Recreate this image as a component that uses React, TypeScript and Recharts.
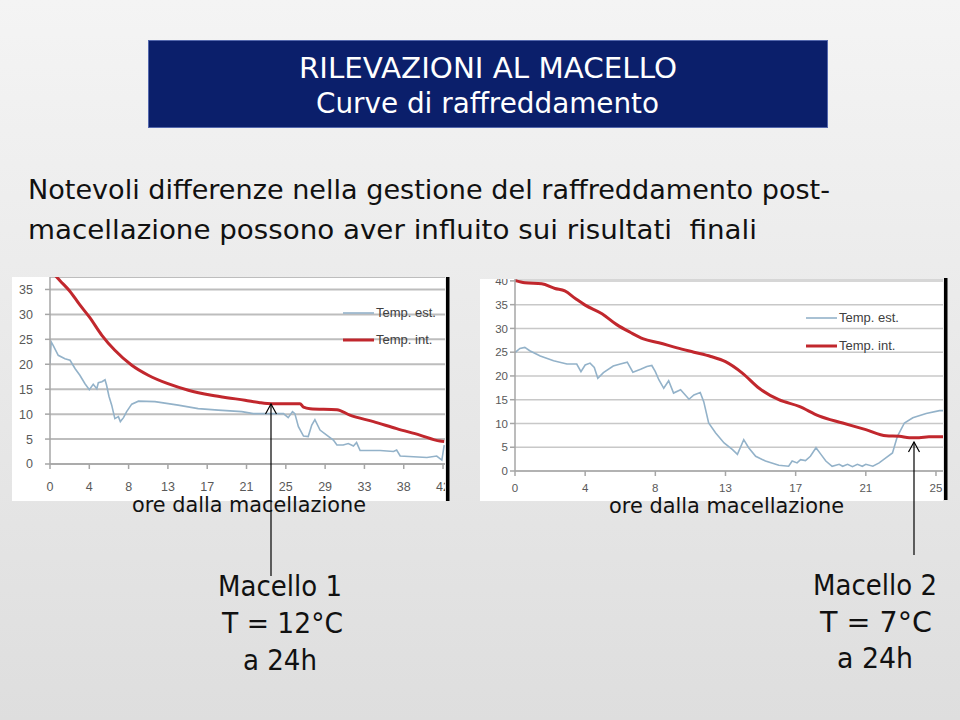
import { CartesianGrid, Line, LineChart, XAxis, YAxis } from "recharts";

// x positions are measured in tick slots of the original Excel axis
// (slot n sits under label n), read off the picture

// Macello 1
const m1Labels = ["0", "4", "8", "13", "17", "21", "25", "29", "33", "38", "42"];
const m1EstPos = [
  0, 0.03, 0.08, 0.21, 0.38, 0.51, 0.64, 0.76, 0.89, 1.0, 1.1, 1.19, 1.23, 1.32, 1.4, 1.44,
  1.5, 1.57, 1.65, 1.74, 1.79, 1.87, 1.95, 2.08, 2.25, 2.67, 3.26, 3.77, 4.28, 4.88, 5.17,
  5.5, 5.94, 6.06, 6.17, 6.23, 6.32, 6.45, 6.57, 6.66, 6.74, 6.87, 7.04, 7.21, 7.3, 7.46,
  7.59, 7.72, 7.8, 7.89, 8.4, 8.74, 8.82, 8.91, 9.59, 9.84, 9.97, 10.03,
];
const m1EstTemp = [
  20.1, 24.5, 23.8, 21.8, 21.1, 20.8, 19.1, 17.8, 16.1, 14.9, 16.0, 15.1, 16.3, 16.5, 16.9,
  15.8, 13.6, 11.8, 9.1, 9.5, 8.5, 9.3, 10.5, 12.0, 12.6, 12.5, 11.8, 11.1, 10.8, 10.5, 10.1,
  10.1, 10.1, 9.3, 10.5, 10.1, 7.5, 5.6, 5.5, 7.8, 8.9, 6.8, 5.8, 4.8, 3.8, 3.8, 4.1, 3.6,
  4.3, 2.7, 2.7, 2.5, 2.8, 1.6, 1.3, 1.6, 0.8, 3.8,
];
const m1IntPos = [
  0, 0.25, 0.5, 0.75, 1.0, 1.32, 1.65, 2.08, 2.5, 3.0, 3.52, 4.11, 4.5, 4.96, 5.34, 5.64,
  6.36, 6.45, 6.62, 7.3, 7.63, 8.23, 8.82, 9.41, 9.92, 10.03,
];
const m1IntTemp = [
  39.0, 36.8, 34.7, 32.0, 29.5, 25.8, 22.8, 19.8, 17.8, 16.1, 14.8, 13.8, 13.3, 12.8, 12.3,
  12.1, 12.1, 11.4, 11.1, 10.9, 9.8, 8.5, 7.1, 5.8, 4.6, 4.5,
];

// Macello 2
const m2Labels = ["0", "4", "8", "13", "17", "21", "25"];
const m2EstPos = [
  0, 0.07, 0.14, 0.21, 0.36, 0.55, 0.74, 0.88, 0.94, 1.0, 1.07, 1.13, 1.18, 1.26, 1.4, 1.5,
  1.6, 1.68, 1.79, 1.88, 1.95, 2.0, 2.05, 2.12, 2.19, 2.26, 2.36, 2.48, 2.55, 2.64, 2.69,
  2.76, 2.86, 2.98, 3.1, 3.17, 3.26, 3.33, 3.43, 3.57, 3.76, 3.9, 3.95, 4.02, 4.07, 4.14,
  4.21, 4.29, 4.36, 4.43, 4.52, 4.62, 4.67, 4.74, 4.81, 4.88, 4.95, 5.0, 5.1, 5.19, 5.29,
  5.38, 5.45, 5.55, 5.67, 5.86, 6.05, 6.1,
];
const m2EstTemp = [
  24.9, 25.8, 26.0, 25.3, 24.2, 23.2, 22.5, 22.5, 20.9, 22.3, 22.7, 21.8, 19.5, 20.7, 22.1,
  22.5, 22.9, 20.8, 21.4, 22.0, 22.2, 20.9, 19.2, 17.4, 19.0, 16.4, 17.1, 15.1, 16.0, 16.5,
  14.6, 10.1, 8.0, 5.9, 4.5, 3.5, 6.6, 4.9, 3.1, 2.1, 1.2, 1.0, 2.1, 1.7, 2.4, 2.2, 3.1, 4.9,
  3.5, 2.1, 1.0, 1.4, 1.0, 1.4, 0.9, 1.4, 1.0, 1.4, 1.0, 1.7, 2.8, 3.8, 7.3, 10.1, 11.2,
  12.1, 12.7, 12.7,
];
const m2IntPos = [
  0, 0.14, 0.38, 0.57, 0.71, 0.86, 1.0, 1.24, 1.45, 1.64, 1.83, 2.05, 2.31, 2.55, 2.79, 3.0,
  3.24, 3.48, 3.76, 4.05, 4.33, 4.67, 5.0, 5.29, 5.48, 5.62, 5.76, 5.9, 6.1,
];
const m2IntTemp = [
  40.1, 39.6, 39.4, 38.4, 37.9, 36.3, 34.9, 33.1, 30.8, 29.2, 27.8, 27.0, 25.9, 25.0, 24.1,
  23.0, 20.6, 17.4, 15.0, 13.6, 11.6, 10.1, 8.7, 7.4, 7.3, 7.0, 7.0, 7.2, 7.2,
];

const m1YTicks = [0, 5, 10, 15, 20, 25, 30, 35];
const m2YTicks = [0, 5, 10, 15, 20, 25, 30, 35, 40];

const EST = "#93b2c9";
const INT = "#c1272d";
const TICK = "#595959";

const zip = (pos: number[], temp: number[]) => pos.map((p, i) => ({ pos: p, temp: temp[i] }));

type PanelProps = {
  left: number;
  top: number;
  width: number;
  height: number;
  est: { pos: number; temp: number }[];
  int: { pos: number; temp: number }[];
  labels: string[];
  xMax: number;
  yMax: number;
  yTicks: number[];
  yAxisWidth: number;
  yTickMargin: number;
  xAxisHeight: number;
  xTickMargin: number;
  fontSize: number;
  gridStroke: string;
  gridWidth: number;
  legendLeft: number;
  legendTop: number;
  legendGap: number;
};

function Panel(p: PanelProps) {
  const tickStyle = { fill: TICK, fontSize: p.fontSize, fontFamily: "Liberation Sans" };
  return (
    <div
      style={{
        position: "absolute",
        left: p.left,
        top: p.top,
        width: p.width,
        height: p.height,
        background: "#fff",
        overflow: "hidden",
      }}
    >
      <LineChart width={p.width} height={p.height} margin={{ top: 0, right: 0, bottom: 0, left: 0 }}>
        <CartesianGrid vertical={false} stroke={p.gridStroke} strokeWidth={p.gridWidth} />
        <XAxis
          type="number"
          dataKey="pos"
          domain={[0, p.xMax]}
          allowDataOverflow
          ticks={p.labels.map((_, i) => i)}
          interval={0}
          tickFormatter={(v: number) => p.labels[v] ?? ""}
          height={p.xAxisHeight}
          tickSize={5}
          tickMargin={p.xTickMargin}
          stroke="#a6a6a6"
          strokeWidth={1.5}
          tick={tickStyle}
        />
        <YAxis
          type="number"
          domain={[0, p.yMax]}
          allowDataOverflow
          ticks={p.yTicks}
          interval={0}
          width={p.yAxisWidth}
          tickSize={5}
          tickMargin={p.yTickMargin}
          stroke="#a6a6a6"
          strokeWidth={1.5}
          tick={tickStyle}
        />
        <Line
          data={p.est}
          dataKey="temp"
          type="linear"
          stroke={EST}
          strokeWidth={1.6}
          dot={false}
          isAnimationActive={false}
        />
        <Line
          data={p.int}
          dataKey="temp"
          type="monotone"
          stroke={INT}
          strokeWidth={3}
          dot={false}
          isAnimationActive={false}
        />
      </LineChart>
      <svg
        width={140}
        height={p.legendGap + 16}
        style={{ position: "absolute", left: p.legendLeft, top: p.legendTop }}
      >
        <line x1={0} x2={31} y1={6} y2={6} stroke={EST} strokeWidth={1.6} />
        <text x={33} y={10} fontSize={13} fontFamily="Liberation Sans" fill="#404040">
          Temp. est.
        </text>
        <line x1={0} x2={31} y1={6 + p.legendGap} y2={6 + p.legendGap} stroke={INT} strokeWidth={3} />
        <text x={33} y={10 + p.legendGap} fontSize={13} fontFamily="Liberation Sans" fill="#404040">
          Temp. int.
        </text>
      </svg>
    </div>
  );
}

function T(props: { x: number; y: number; w: number; size: number; fill?: string; children: string }) {
  return (
    <text
      x={props.x}
      y={props.y}
      fontSize={props.size}
      fontFamily="DejaVu Sans"
      fill={props.fill ?? "#111"}
      textLength={props.w}
      lengthAdjust="spacingAndGlyphs"
      style={{ whiteSpace: "pre" }}
    >
      {props.children}
    </text>
  );
}

export default function App() {
  return (
    <div
      style={{
        position: "absolute",
        left: 0,
        top: 0,
        width: 960,
        height: 720,
        overflow: "hidden",
        background: "linear-gradient(#f4f4f4, #dedede)",
      }}
    >
      <Panel
        left={12}
        top={277}
        width={433}
        height={224}
        est={zip(m1EstPos, m1EstTemp)}
        int={zip(m1IntPos, m1IntTemp)}
        labels={m1Labels}
        xMax={10.05}
        yMax={37.5}
        yTicks={m1YTicks}
        yAxisWidth={38}
        yTickMargin={12}
        xAxisHeight={37}
        xTickMargin={13}
        fontSize={12.5}
        gridStroke="#bdbdbd"
        gridWidth={2}
        legendLeft={331}
        legendTop={30}
        legendGap={27}
      />
      <Panel
        left={480}
        top={279}
        width={463}
        height={222}
        est={zip(m2EstPos, m2EstTemp)}
        int={zip(m2IntPos, m2IntTemp)}
        labels={m2Labels}
        xMax={6.1}
        yMax={40.4}
        yTicks={m2YTicks}
        yAxisWidth={35}
        yTickMargin={2}
        xAxisHeight={30}
        xTickMargin={8}
        fontSize={11.5}
        gridStroke="#c8c8c8"
        gridWidth={1.5}
        legendLeft={326}
        legendTop={33}
        legendGap={28}
      />
      <svg
        width={960}
        height={720}
        style={{ position: "absolute", left: 0, top: 0, pointerEvents: "none" }}
      >
        <rect x={148.5} y={40.5} width={679} height={87} fill="#0b1f6b" stroke="#5468ad" strokeWidth={1} />
        <T x={299} y={78} w={378} size={29} fill="#fff">RILEVAZIONI AL MACELLO</T>
        <T x={316} y={113} w={343} size={29} fill="#fff">Curve di raffreddamento</T>

        <T x={28} y={199} w={802} size={27}>Notevoli differenze nella gestione del raffreddamento post-</T>
        <T x={28} y={239} w={729} size={27}>macellazione possono aver influito sui risultati  finali</T>

        <rect x={446} y={277} width={3.5} height={224} fill="#000" />
        <rect x={944} y={278} width={3.5} height={222} fill="#000" />

        <T x={132} y={512} w={234} size={21}>ore dalla macellazione</T>
        <T x={609} y={513} w={235} size={21}>ore dalla macellazione</T>

        <line x1={271} y1={404} x2={271} y2={576} stroke="#000" strokeWidth={1.2} />
        <polyline points="265.5,414 271,404 276.5,414" fill="none" stroke="#000" strokeWidth={1.2} />
        <line x1={914} y1={442} x2={914} y2={555} stroke="#000" strokeWidth={1.2} />
        <polyline points="908.5,452 914,442 919.5,452" fill="none" stroke="#000" strokeWidth={1.2} />

        <T x={218} y={596} w={124} size={29}>Macello 1</T>
        <T x={222} y={633} w={121} size={29}>T = 12°C</T>
        <T x={243} y={670} w={74} size={29}>a 24h</T>

        <T x={813} y={595} w={124} size={29}>Macello 2</T>
        <T x={820} y={632} w={112} size={29}>T = 7°C</T>
        <T x={837} y={668} w={76} size={29}>a 24h</T>
      </svg>
    </div>
  );
}
